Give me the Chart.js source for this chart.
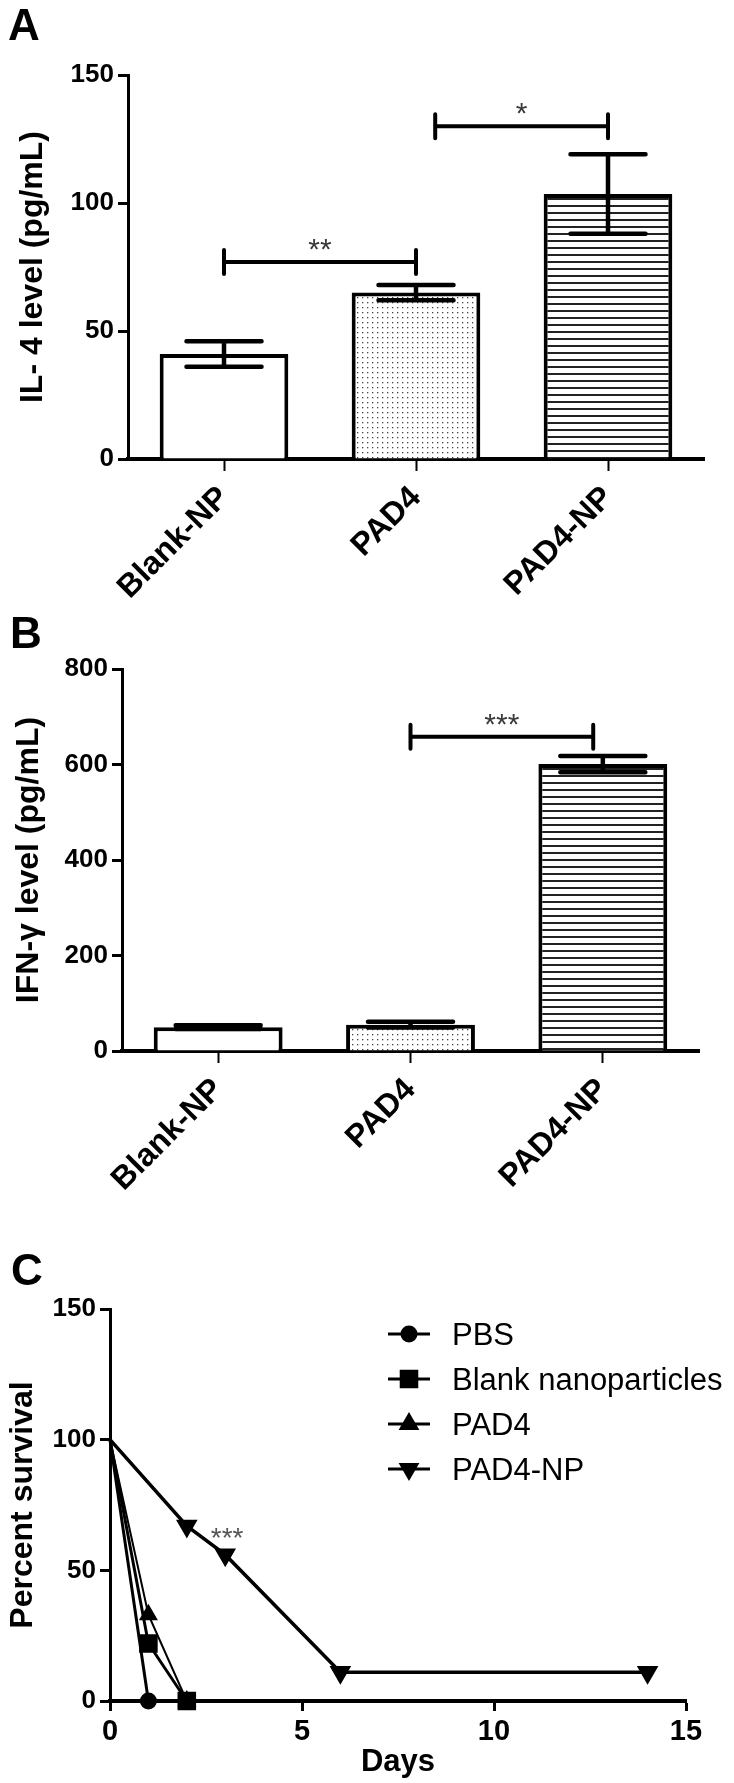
<!DOCTYPE html>
<html>
<head>
<meta charset="utf-8">
<script src="https://cdn.jsdelivr.net/npm/chart.js@4.4.0/dist/chart.umd.min.js"></script>
<style>
    body { margin: 0; background: #fff; }
    #page { position: relative; width: 734px; height: 1783px; overflow: hidden; background: #fff; }
    canvas { position: absolute; left: 0; }
    .tag { position: absolute; font: bold 44px "Liberation Sans", Arial, sans-serif; line-height: 1; color: #000; }
</style>
</head>
<body>
<div id="page">
    <canvas id="chartA" width="734" height="612" style="top:0px"></canvas>
    <canvas id="chartB" width="734" height="612" style="top:612px"></canvas>
    <canvas id="chartC" width="734" height="559" style="top:1224px"></canvas>
    <div class="tag" style="left:8px;top:3px">A</div>
    <div class="tag" style="left:10px;top:611px">B</div>
    <div class="tag" style="left:11px;top:1248px">C</div>
</div>
<script>
// categories and bar values
const groups = ["Blank-NP", "PAD4", "PAD4-NP"];
const il4Mean = [41, 65, 103.5];
const il4Err = [5, 3, 15.5];
const ifnMean = [50, 55, 601];
const ifnErr = [4, 6, 17];

// significance brackets (category positions, height, label)
const il4SigFrom = [0, 1.1];
const il4SigTo = [1, 2];
const il4SigLevel = [77, 130];
const il4SigText = ["**", "*"];
const ifnSigFrom = [1];
const ifnSigTo = [1.95];
const ifnSigLevel = [658];
const ifnSigText = ["***"];

// survival curves
const survLabels = ["PBS", "Blank nanoparticles", "PAD4", "PAD4-NP"];
const pbsDays = [0, 1];
const pbsSurv = [100, 0];
const blankDays = [0, 1, 2];
const blankSurv = [100, 22, 0];
const pad4Days = [0, 1, 2];
const pad4Surv = [100, 33, 0];
const pad4npDays = [0, 2, 3, 6, 14];
const pad4npSurv = [100, 67, 56, 11, 11];

const FONT = "Liberation Sans";
Chart.defaults.font.family = FONT;
Chart.defaults.color = "#000";

function dotPattern(ctx) {
    let t = document.createElement("canvas");
    t.width = 5; t.height = 5;
    let c = t.getContext("2d");
    c.fillStyle = "#fff"; c.fillRect(0, 0, 5, 5);
    c.fillStyle = "#444"; c.fillRect(2, 2, 1.3, 1.3);
    return ctx.createPattern(t, "repeat");
}
function linePattern(ctx) {
    let t = document.createElement("canvas");
    t.width = 8; t.height = 7;
    let c = t.getContext("2d");
    c.fillStyle = "#fff"; c.fillRect(0, 0, 8, 7);
    c.fillStyle = "#222"; c.fillRect(0, 2, 8, 2);
    return ctx.createPattern(t, "repeat");
}

const errorBars = {
    id: "errorBars",
    afterDatasetsDraw(chart, args, opts) {
        const ctx = chart.ctx, y = chart.scales.y;
        const meta = chart.getDatasetMeta(0);
        const vals = chart.data.datasets[0].data;
        ctx.save();
        ctx.strokeStyle = "#000";
        ctx.lineWidth = opts.width;
        ctx.lineCap = "round";
        meta.data.forEach((bar, i) => {
            let top = y.getPixelForValue(vals[i] + opts.errors[i]);
            let bot = y.getPixelForValue(vals[i] - opts.errors[i]);
            let h = opts.cap / 2;
            ctx.beginPath();
            ctx.moveTo(bar.x, top); ctx.lineTo(bar.x, bot);
            ctx.moveTo(bar.x - h, top); ctx.lineTo(bar.x + h, top);
            ctx.moveTo(bar.x - h, bot); ctx.lineTo(bar.x + h, bot);
            ctx.stroke();
        });
        ctx.restore();
    }
};

const sigBrackets = {
    id: "sigBrackets",
    afterDatasetsDraw(chart, args, opts) {
        const ctx = chart.ctx, x = chart.scales.x, y = chart.scales.y;
        ctx.save();
        opts.from.forEach((f, i) => {
            let x0 = x.getPixelForValue(f), x1 = x.getPixelForValue(opts.to[i]);
            let yy = y.getPixelForValue(opts.level[i]);
            ctx.strokeStyle = "#000";
            ctx.lineWidth = 4;
            ctx.lineCap = "round";
            ctx.beginPath();
            ctx.moveTo(x0, yy); ctx.lineTo(x1, yy);
            ctx.moveTo(x0, yy - 12); ctx.lineTo(x0, yy + 12);
            ctx.moveTo(x1, yy - 12); ctx.lineTo(x1, yy + 12);
            ctx.stroke();
            ctx.fillStyle = "#3a3a3a";
            ctx.font = `30px "${FONT}"`;
            ctx.textAlign = "center";
            ctx.textBaseline = "alphabetic";
            ctx.fillText(opts.text[i], (x0 + x1) / 2, yy - 3);
        });
        ctx.restore();
    }
};

function barChart(id, means, errs, yMax, yStep, title, sig, box) {
    const canvas = document.getElementById(id);
    const ctx = canvas.getContext("2d");
    return new Chart(ctx, {
        type: "bar",
        data: {
            labels: groups,
            datasets: [{
                data: means,
                backgroundColor: ["#fff", dotPattern(ctx), linePattern(ctx)],
                borderColor: "#000",
                borderWidth: 4,
                borderSkipped: "start",
                barPercentage: 0.67,
                categoryPercentage: 1
            }]
        },
        options: {
            responsive: false,
            animation: false,
            devicePixelRatio: 1,
            layout: { padding: { top: box.top, right: box.right, left: 0, bottom: 0 } },
            plugins: {
                legend: { display: false },
                tooltip: { enabled: false },
                errorBars: { errors: errs, cap: box.cap, width: 4.5 },
                sigBrackets: sig
            },
            scales: {
                x: {
                    offset: true,
                    afterFit: s => { s.height = box.xh; },
                    grid: { drawOnChartArea: false, offset: false, tickLength: 12, tickWidth: 2, tickColor: "#000" },
                    border: { color: "#000", width: 4 },
                    ticks: { minRotation: 45, maxRotation: 45, padding: 8, color: "#000", font: { size: 32, weight: "bold" } }
                },
                y: {
                    min: 0, max: yMax,
                    afterFit: s => { s.width = box.yw; },
                    grid: { drawOnChartArea: false, tickLength: 10, tickWidth: 3, tickColor: "#000" },
                    border: { color: "#000", width: 3 },
                    ticks: { stepSize: yStep, padding: 4, color: "#000", font: { size: 26, weight: "bold" } },
                    title: { display: true, text: title, color: "#000", padding: { top: box.tp, bottom: 0 }, font: { size: 32, weight: "bold" } }
                }
            }
        },
        plugins: [errorBars, sigBrackets]
    });
}

barChart("chartA", il4Mean, il4Err, 150, 50, "IL- 4 level (pg/mL)",
    { from: il4SigFrom, to: il4SigTo, level: il4SigLevel, text: il4SigText },
    { top: 75, right: 30, xh: 153, yw: 128, tp: 14, cap: 75 });

barChart("chartB", ifnMean, ifnErr, 800, 200, "IFN-\u03b3 level (pg/mL)",
    { from: ifnSigFrom, to: ifnSigTo, level: ifnSigLevel, text: ifnSigText },
    { top: 57, right: 35, xh: 173, yw: 122, tp: 10, cap: 85 });

// survival panel
const survLegend = {
    id: "survLegend",
    afterDraw(chart) {
        const { ctx, chartArea } = chart;
        ctx.save();
        chart.data.datasets.forEach((ds, i) => {
            let y = chartArea.top + 25 + i * 45;
            let x0 = chartArea.left + 278;
            ctx.strokeStyle = "#000";
            ctx.fillStyle = "#000";
            ctx.lineWidth = 3;
            ctx.beginPath();
            ctx.moveTo(x0, y); ctx.lineTo(x0 + 42, y);
            ctx.stroke();
            Chart.helpers.drawPoint(ctx, {
                pointStyle: ds.pointStyle, rotation: ds.pointRotation || 0,
                radius: ds.legendRadius, borderWidth: 1
            }, x0 + 21, y);
            ctx.font = `31px "${FONT}"`;
            ctx.textAlign = "left";
            ctx.textBaseline = "alphabetic";
            ctx.fillText(ds.label, x0 + 64, y + 11);
        });
        ctx.restore();
    }
};

const survNote = {
    id: "survNote",
    afterDatasetsDraw(chart) {
        const { ctx, scales: { x, y } } = chart;
        ctx.save();
        ctx.fillStyle = "#555";
        ctx.font = `28px "${FONT}"`;
        ctx.textAlign = "center";
        ctx.textBaseline = "alphabetic";
        ctx.fillText("***", x.getPixelForValue(3.05), y.getPixelForValue(65) + 16);
        ctx.restore();
    }
};

function curve(label, days, surv, style, radius, rot, width) {
    return {
        label,
        data: days.map((d, i) => ({ x: d, y: surv[i] })),
        borderColor: "#000",
        backgroundColor: "#000",
        pointBackgroundColor: "#000",
        pointBorderColor: "#000",
        borderWidth: width,
        pointStyle: style,
        pointRotation: rot,
        pointRadius: days.map(d => d === 0 ? 0 : radius),
        legendRadius: radius,
        tension: 0,
        clip: false
    };
}

new Chart(document.getElementById("chartC"), {
    type: "line",
    data: {
        datasets: [
            curve(survLabels[0], pbsDays, pbsSurv, "circle", 7, 0, 3),
            curve(survLabels[1], blankDays, blankSurv, "rect", 11, 0, 3),
            curve(survLabels[2], pad4Days, pad4Surv, "triangle", 9, 0, 2),
            curve(survLabels[3], pad4npDays, pad4npSurv, "triangle", 9, 180, 3.5)
        ]
    },
    options: {
        responsive: false,
        animation: false,
        devicePixelRatio: 1,
        layout: { padding: { top: 85, right: 48, left: 0, bottom: 0 } },
        plugins: { legend: { display: false }, tooltip: { enabled: false } },
        scales: {
            x: {
                type: "linear", min: 0, max: 15,
                afterFit: s => { s.height = 82; },
                grid: { drawOnChartArea: false, tickLength: 10, tickWidth: 3, tickColor: "#000" },
                border: { color: "#000", width: 4 },
                ticks: { stepSize: 5, padding: 4, color: "#000", font: { size: 29, weight: "bold" } },
                title: { display: true, text: "Days", color: "#000", padding: { top: 0, bottom: 2 }, font: { size: 31, weight: "bold" } }
            },
            y: {
                min: 0, max: 150,
                afterFit: s => { s.width = 110; },
                grid: { drawOnChartArea: false, tickLength: 10, tickWidth: 3, tickColor: "#000" },
                border: { color: "#000", width: 3 },
                ticks: { stepSize: 50, padding: 4, color: "#000", font: { size: 26, weight: "bold" } },
                title: { display: true, text: "Percent survival", color: "#000", padding: { top: 4, bottom: 0 }, font: { size: 32, weight: "bold" } }
            }
        }
    },
    plugins: [survLegend, survNote]
});
</script>
</body>
</html>
